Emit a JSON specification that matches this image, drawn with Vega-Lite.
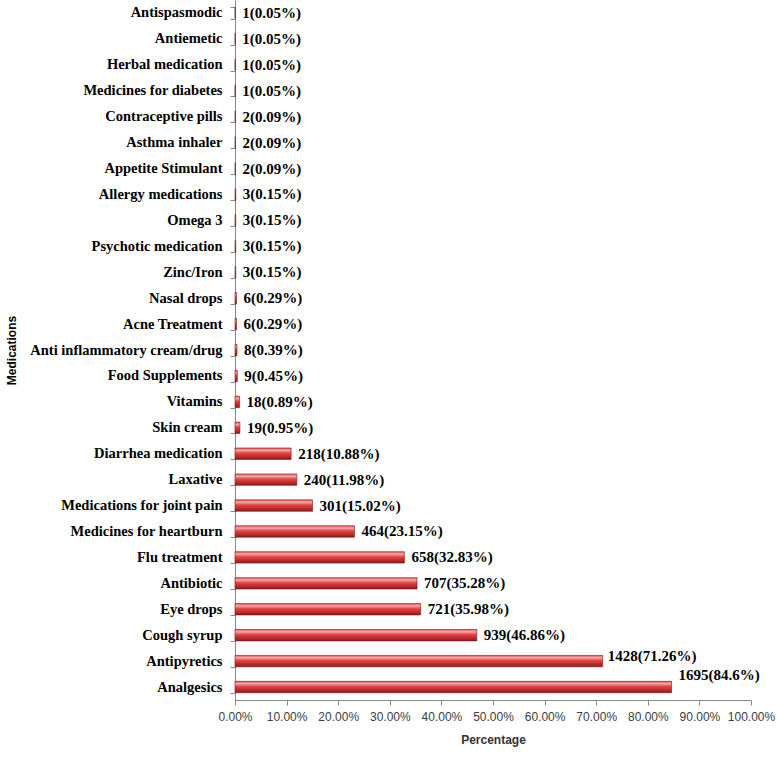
{
  "$schema": "https://vega.github.io/schema/vega-lite/v6.json",
  "width": 516,
  "height": 700,
  "autosize": {"type": "none"},
  "padding": {"left": 235, "top": 0, "right": 29, "bottom": 58},
  "background": "white",
  "config": {"view": {"stroke": null}},
  "data": {
    "values": [
      {"med": "Antispasmodic", "n": 1, "pct": 0.05, "label": "1(0.05%)"},
      {"med": "Antiemetic", "n": 1, "pct": 0.05, "label": "1(0.05%)"},
      {"med": "Herbal medication", "n": 1, "pct": 0.05, "label": "1(0.05%)"},
      {"med": "Medicines for diabetes", "n": 1, "pct": 0.05, "label": "1(0.05%)"},
      {"med": "Contraceptive pills", "n": 2, "pct": 0.09, "label": "2(0.09%)"},
      {"med": "Asthma inhaler", "n": 2, "pct": 0.09, "label": "2(0.09%)"},
      {"med": "Appetite Stimulant", "n": 2, "pct": 0.09, "label": "2(0.09%)"},
      {"med": "Allergy medications", "n": 3, "pct": 0.15, "label": "3(0.15%)"},
      {"med": "Omega 3", "n": 3, "pct": 0.15, "label": "3(0.15%)"},
      {"med": "Psychotic medication", "n": 3, "pct": 0.15, "label": "3(0.15%)"},
      {"med": "Zinc/Iron", "n": 3, "pct": 0.15, "label": "3(0.15%)"},
      {"med": "Nasal drops", "n": 6, "pct": 0.29, "label": "6(0.29%)"},
      {"med": "Acne Treatment", "n": 6, "pct": 0.29, "label": "6(0.29%)"},
      {"med": "Anti inflammatory cream/drug", "n": 8, "pct": 0.39, "label": "8(0.39%)"},
      {"med": "Food Supplements", "n": 9, "pct": 0.45, "label": "9(0.45%)"},
      {"med": "Vitamins", "n": 18, "pct": 0.89, "label": "18(0.89%)"},
      {"med": "Skin cream", "n": 19, "pct": 0.95, "label": "19(0.95%)"},
      {"med": "Diarrhea medication", "n": 218, "pct": 10.88, "label": "218(10.88%)"},
      {"med": "Laxative", "n": 240, "pct": 11.98, "label": "240(11.98%)"},
      {"med": "Medications for joint pain", "n": 301, "pct": 15.02, "label": "301(15.02%)"},
      {"med": "Medicines for heartburn", "n": 464, "pct": 23.15, "label": "464(23.15%)"},
      {"med": "Flu treatment", "n": 658, "pct": 32.83, "label": "658(32.83%)"},
      {"med": "Antibiotic", "n": 707, "pct": 35.28, "label": "707(35.28%)"},
      {"med": "Eye drops", "n": 721, "pct": 35.98, "label": "721(35.98%)"},
      {"med": "Cough syrup", "n": 939, "pct": 46.86, "label": "939(46.86%)"},
      {"med": "Antipyretics", "n": 1428, "pct": 71.26, "label": "1428(71.26%)"},
      {"med": "Analgesics", "n": 1695, "pct": 84.6, "label": "1695(84.6%)"}
    ]
  },
  "encoding": {
    "y": {
      "field": "med",
      "type": "nominal",
      "sort": null,
      "scale": {"paddingInner": 0.56, "paddingOuter": 0.28},
      "axis": {
        "title": "Medications",
        "titleFont": "Liberation Sans",
        "titleFontSize": 12,
        "titleFontWeight": "bold",
        "titleColor": "#000000",
        "titleX": -217,
        "titleAnchor": "middle",
        "titleAngle": -90,
        "labelFont": "Liberation Serif",
        "labelFontSize": 14.5,
        "labelFontWeight": "bold",
        "labelColor": "#000000",
        "labelPadding": 8,
        "labelLimit": 300,
        "tickBand": "extent",
        "tickSize": 5,
        "tickColor": "#888888",
        "domainColor": "#888888",
        "grid": false
      }
    },
    "x": {
      "field": "pct",
      "type": "quantitative",
      "scale": {"domain": [0, 100], "nice": false},
      "axis": {
        "title": "Percentage",
        "titleFont": "Liberation Sans",
        "titleFontSize": 12,
        "titleFontWeight": "bold",
        "titleColor": "#333333",
        "titlePadding": 12,
        "values": [0, 10, 20, 30, 40, 50, 60, 70, 80, 90, 100],
        "labelExpr": "format(datum.value, '.2f') + '%'",
        "labelFont": "Liberation Sans",
        "labelFontSize": 12,
        "labelColor": "#404040",
        "labelPadding": 6,
        "labelFlush": false,
        "tickSize": 5,
        "tickColor": "#888888",
        "domainColor": "#888888",
        "grid": false
      }
    }
  },
  "layer": [
    {
      "mark": {
        "type": "bar",
        "stroke": "#7a1515",
        "strokeWidth": 0.6,
        "color": {
          "gradient": "linear",
          "x1": 0, "y1": 0, "x2": 0, "y2": 1,
          "stops": [
            {"offset": 0, "color": "#e25555"},
            {"offset": 0.2, "color": "#f7a8a8"},
            {"offset": 0.45, "color": "#e04646"},
            {"offset": 0.75, "color": "#c02a2a"},
            {"offset": 1, "color": "#8a1a1a"}
          ]
        }
      }
    },
    {
      "transform": [{"filter": "datum.med != 'Analgesics' && datum.med != 'Antipyretics'"}],
      "mark": {"type": "text", "align": "left", "baseline": "middle", "dx": 7, "font": "Liberation Serif", "fontSize": 15, "fontWeight": "bold", "color": "#000000"},
      "encoding": {"text": {"field": "label"}}
    },
    {
      "transform": [{"filter": "datum.med == 'Antipyretics'"}],
      "mark": {"type": "text", "align": "left", "baseline": "middle", "dx": 5, "dy": -5, "font": "Liberation Serif", "fontSize": 15, "fontWeight": "bold", "color": "#000000"},
      "encoding": {"text": {"field": "label"}}
    },
    {
      "transform": [{"filter": "datum.med == 'Analgesics'"}],
      "mark": {"type": "text", "align": "left", "baseline": "middle", "dx": 7, "dy": -12, "font": "Liberation Serif", "fontSize": 15, "fontWeight": "bold", "color": "#000000"},
      "encoding": {"text": {"field": "label"}}
    }
  ]
}
